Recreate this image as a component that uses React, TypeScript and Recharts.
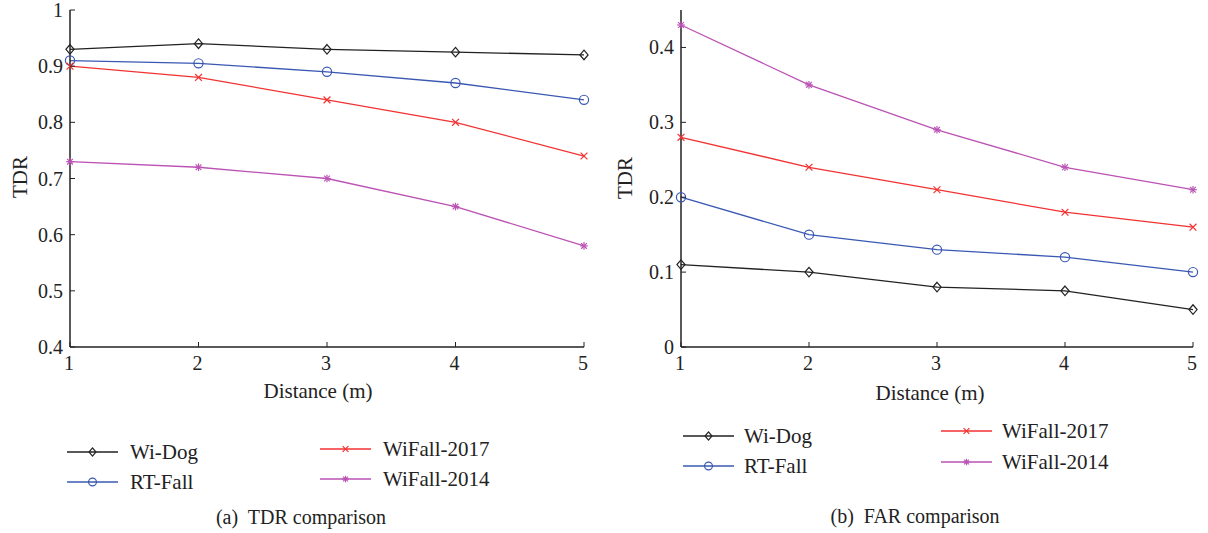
import React from "react";
import { Line, LineChart, XAxis, YAxis } from "recharts";

// distances along the x axis
const distances = [1, 2, 3, 4, 5];

// (a) TDR comparison
const tdrWiDog = [0.93, 0.94, 0.93, 0.925, 0.92];
const tdrRtFall = [0.91, 0.905, 0.89, 0.87, 0.84];
const tdrWiFall2017 = [0.9, 0.88, 0.84, 0.8, 0.74];
const tdrWiFall2014 = [0.73, 0.72, 0.7, 0.65, 0.58];

// (b) FAR comparison
const farWiDog = [0.11, 0.1, 0.08, 0.075, 0.05];
const farRtFall = [0.2, 0.15, 0.13, 0.12, 0.1];
const farWiFall2017 = [0.28, 0.24, 0.21, 0.18, 0.16];
const farWiFall2014 = [0.43, 0.35, 0.29, 0.24, 0.21];

const tdrTicks = [0.4, 0.5, 0.6, 0.7, 0.8, 0.9, 1];
const farTicks = [0, 0.1, 0.2, 0.3, 0.4];

type Marker = "diamond" | "circle" | "cross" | "star";

const series: { key: string; name: string; color: string; marker: Marker }[] = [
  { key: "wiDog", name: "Wi-Dog", color: "#222222", marker: "diamond" },
  { key: "rtFall", name: "RT-Fall", color: "#3a58b2", marker: "circle" },
  { key: "wiFall2017", name: "WiFall-2017", color: "#f23232", marker: "cross" },
  { key: "wiFall2014", name: "WiFall-2014", color: "#bb52b4", marker: "star" },
];

const tdrRows = distances.map((d, i) => ({
  d,
  wiDog: tdrWiDog[i],
  rtFall: tdrRtFall[i],
  wiFall2017: tdrWiFall2017[i],
  wiFall2014: tdrWiFall2014[i],
}));

const farRows = distances.map((d, i) => ({
  d,
  wiDog: farWiDog[i],
  rtFall: farRtFall[i],
  wiFall2017: farWiFall2017[i],
  wiFall2014: farWiFall2014[i],
}));

const FONT = "'Liberation Serif', 'DejaVu Serif', serif";
const INK = "#222222";

function drawMarker(kind: Marker, cx: number, cy: number, color: string, s = 1, key?: string) {
  const w = 1.2;
  if (kind === "diamond") {
    const r = 4.8 * s;
    return (
      <path
        key={key}
        d={`M${cx},${cy - r} L${cx + r * 0.85},${cy} L${cx},${cy + r} L${cx - r * 0.85},${cy} Z`}
        fill="none"
        stroke={color}
        strokeWidth={w}
      />
    );
  }
  if (kind === "circle") {
    return <circle key={key} cx={cx} cy={cy} r={4.6 * s} fill="none" stroke={color} strokeWidth={w} />;
  }
  if (kind === "cross") {
    const r = 3.4 * s;
    return (
      <g key={key} stroke={color} strokeWidth={w}>
        <line x1={cx - r} y1={cy - r} x2={cx + r} y2={cy + r} />
        <line x1={cx - r} y1={cy + r} x2={cx + r} y2={cy - r} />
      </g>
    );
  }
  const r = 3.8 * s;
  const d = r * 0.75;
  return (
    <g key={key} stroke={color} strokeWidth={w}>
      <line x1={cx - d} y1={cy - d} x2={cx + d} y2={cy + d} />
      <line x1={cx - d} y1={cy + d} x2={cx + d} y2={cy - d} />
      <line x1={cx} y1={cy - r} x2={cx} y2={cy + r} />
      <line x1={cx - r} y1={cy} x2={cx + r} y2={cy} />
    </g>
  );
}

const BottomTick = (props: any) => {
  const { x, y, payload } = props;
  return (
    <g>
      <line x1={x} x2={x} y1={y} y2={y - 5} stroke={INK} strokeWidth={1} />
      <text x={x - 1} y={y + 23} textAnchor="middle" fontFamily={FONT} fontSize={20} fill={INK}>
        {payload.value}
      </text>
    </g>
  );
};

const TopTick = (props: any) => {
  const { x, y } = props;
  return <line x1={x} x2={x} y1={y} y2={y + 5} stroke={INK} strokeWidth={1} />;
};

const makeLeftTick = (fmt: (v: number) => string) => (props: any) => {
  const { x, y, payload } = props;
  return (
    <g>
      <line x1={x} x2={x + 5} y1={y} y2={y} stroke={INK} strokeWidth={1} />
      <text x={x - 7} y={y + 7} textAnchor="end" fontFamily={FONT} fontSize={20} fill={INK}>
        {fmt(payload.value)}
      </text>
    </g>
  );
};

const RightTick = (props: any) => {
  const { x, y } = props;
  return <line x1={x} x2={x - 5} y1={y} y2={y} stroke={INK} strokeWidth={1} />;
};

const tdrFmt = (v: number) => (v === 1 ? "1" : v.toFixed(1));
const farFmt = (v: number) => (v === 0 ? "0" : v.toFixed(1));

function Panel({
  rows,
  domain,
  ticks,
  fmt,
  left,
  width,
  axisWidth,
  marginRight,
}: {
  rows: any[];
  domain: [number, number];
  ticks: number[];
  fmt: (v: number) => string;
  left: number;
  width: number;
  axisWidth: number;
  marginRight: number;
}) {
  const axisLine = { stroke: INK, strokeWidth: 1.5 };
  const LeftTick = makeLeftTick(fmt);
  return (
    <div style={{ position: "absolute", left, top: 0 }}>
      <LineChart width={width} height={400} data={rows} margin={{ top: 10, right: marginRight, bottom: 13, left: 0 }}>
        <XAxis
          xAxisId="b"
          dataKey="d"
          type="number"
          domain={[1, 5]}
          ticks={distances}
          interval={0}
          height={40}
          tickSize={0}
          tickMargin={0}
          tickLine={false}
          axisLine={axisLine}
          tick={<BottomTick />}
        />
        <XAxis
          xAxisId="t"
          orientation="top"
          dataKey="d"
          type="number"
          domain={[1, 5]}
          ticks={distances}
          interval={0}
          height={0}
          tickSize={0}
          tickMargin={0}
          tickLine={false}
          axisLine={axisLine}
          tick={<TopTick />}
        />
        <YAxis
          yAxisId="l"
          type="number"
          domain={domain}
          ticks={ticks}
          interval={0}
          width={axisWidth}
          tickSize={0}
          tickMargin={0}
          tickLine={false}
          axisLine={axisLine}
          tick={<LeftTick />}
        />
        <YAxis
          yAxisId="r"
          orientation="right"
          type="number"
          domain={domain}
          ticks={ticks}
          interval={0}
          width={0}
          tickSize={0}
          tickMargin={0}
          tickLine={false}
          axisLine={axisLine}
          tick={<RightTick />}
        />
        {series.map((s) => (
          <Line
            key={s.key}
            xAxisId="b"
            yAxisId="l"
            dataKey={s.key}
            type="linear"
            stroke={s.color}
            strokeWidth={1.3}
            isAnimationActive={false}
            activeDot={false}
            dot={(p: any) => drawMarker(s.marker, p.cx, p.cy, s.color, 1, `${s.key}-${p.index}`)}
          />
        ))}
      </LineChart>
    </div>
  );
}

function LegendBlock({ x1, x2, rows, ys }: { x1: number; x2: number; rows: typeof series; ys: number[] }) {
  return (
    <>
      {rows.map((s, i) => {
        const y = ys[i];
        const xa = x1;
        const xb = xa + 51;
        return (
          <g key={s.key}>
            <line x1={xa} x2={xb} y1={y} y2={y} stroke={s.color} strokeWidth={1.3} />
            {drawMarker(s.marker, (xa + xb) / 2, y, s.color, 0.85)}
            <text x={xb + x2} y={y + 7} fontFamily={FONT} fontSize={21} fill={INK}>
              {s.name}
            </text>
          </g>
        );
      })}
    </>
  );
}

export default function App() {
  return (
    <div style={{ position: "absolute", left: 0, top: 0, width: 1208, height: 533, background: "#fff" }}>
      <Panel rows={tdrRows} domain={[0.4, 1]} ticks={tdrTicks} fmt={tdrFmt} left={0} width={600} axisWidth={70} marginRight={16} />
      <Panel rows={farRows} domain={[0, 0.45]} ticks={farTicks} fmt={farFmt} left={600} width={608} axisWidth={81} marginRight={15} />
      <svg width={1208} height={533} style={{ position: "absolute", left: 0, top: 0, pointerEvents: "none" }}>
        <text x={27} y={177} transform="rotate(-90 27 177)" textAnchor="middle" fontFamily={FONT} fontSize={21} fill={INK}>
          TDR
        </text>
        <text x={632} y={178} transform="rotate(-90 632 178)" textAnchor="middle" fontFamily={FONT} fontSize={21} fill={INK}>
          TDR
        </text>
        <text x={318} y={398} textAnchor="middle" fontFamily={FONT} fontSize={21} fill={INK}>
          Distance (m)
        </text>
        <text x={930} y={400} textAnchor="middle" fontFamily={FONT} fontSize={21} fill={INK}>
          Distance (m)
        </text>

        <LegendBlock x1={67} x2={12} rows={[series[0], series[1]]} ys={[452, 482]} />
        <LegendBlock x1={320} x2={12} rows={[series[2], series[3]]} ys={[449, 479]} />
        <LegendBlock x1={683} x2={10} rows={[series[0], series[1]]} ys={[436, 466]} />
        <LegendBlock x1={941} x2={10} rows={[series[2], series[3]]} ys={[431, 462]} />

        <text x={301} y={524} textAnchor="middle" fontFamily={FONT} fontSize={20} fill={INK} xmlSpace="preserve">
          (a)  TDR comparison
        </text>
        <text x={915} y={523} textAnchor="middle" fontFamily={FONT} fontSize={20} fill={INK} xmlSpace="preserve">
          (b)  FAR comparison
        </text>
      </svg>
    </div>
  );
}
